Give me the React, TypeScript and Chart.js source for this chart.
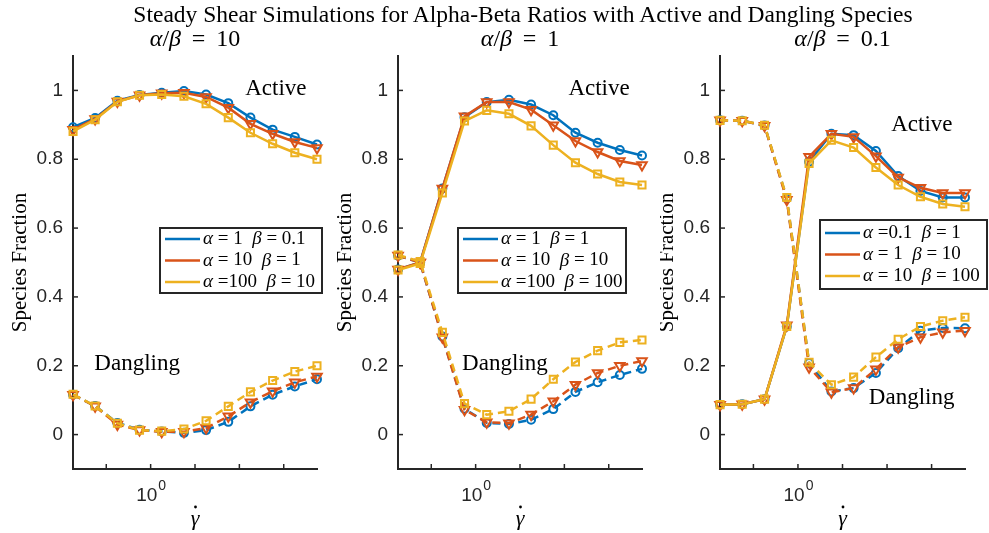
import React, { useEffect, useRef } from 'react';
import { Chart, registerables } from 'chart.js';
Chart.register(...registerables);

// ---------- data ----------
const shearRates = [0.447, 0.562, 0.708, 0.891, 1.122, 1.413, 1.778, 2.239, 2.818, 3.548, 4.467, 5.623];
const xTickValues = [0.631, 1, 1.585, 2.512, 3.981];
const yTickValues = [0, 0.2, 0.4, 0.6, 0.8, 1];

// alpha/beta = 10
const r10ActiveA = [0.893, 0.920, 0.970, 0.987, 0.993, 0.998, 0.988, 0.963, 0.921, 0.886, 0.865, 0.843];
const r10ActiveB = [0.886, 0.917, 0.968, 0.986, 0.992, 0.993, 0.981, 0.950, 0.903, 0.874, 0.850, 0.833];
const r10ActiveC = [0.881, 0.915, 0.967, 0.986, 0.988, 0.983, 0.961, 0.921, 0.877, 0.845, 0.819, 0.800];
const r10DanglingA = [0.116, 0.083, 0.034, 0.014, 0.009, 0.005, 0.013, 0.037, 0.082, 0.116, 0.140, 0.161];
const r10DanglingB = [0.116, 0.082, 0.029, 0.013, 0.008, 0.008, 0.019, 0.053, 0.094, 0.126, 0.152, 0.169];
const r10DanglingC = [0.117, 0.083, 0.033, 0.013, 0.010, 0.016, 0.040, 0.082, 0.124, 0.157, 0.183, 0.200];

// alpha/beta = 1
const r1ActiveA = [0.480, 0.500, 0.715, 0.922, 0.966, 0.973, 0.959, 0.928, 0.877, 0.848, 0.827, 0.811];
const r1ActiveB = [0.480, 0.500, 0.715, 0.925, 0.966, 0.966, 0.944, 0.899, 0.853, 0.821, 0.795, 0.783];
const r1ActiveC = [0.478, 0.497, 0.702, 0.911, 0.942, 0.932, 0.897, 0.841, 0.790, 0.757, 0.734, 0.725];
const r1DanglingA = [0.520, 0.500, 0.285, 0.075, 0.034, 0.031, 0.043, 0.074, 0.124, 0.152, 0.173, 0.191];
const r1DanglingB = [0.520, 0.500, 0.283, 0.072, 0.036, 0.033, 0.058, 0.097, 0.145, 0.179, 0.200, 0.214];
const r1DanglingC = [0.522, 0.503, 0.297, 0.090, 0.058, 0.068, 0.103, 0.161, 0.211, 0.244, 0.268, 0.275];

// alpha/beta = 0.1
const r01ActiveA = [0.087, 0.088, 0.103, 0.314, 0.793, 0.874, 0.870, 0.824, 0.751, 0.708, 0.689, 0.689];
const r01ActiveB = [0.087, 0.088, 0.103, 0.318, 0.807, 0.874, 0.865, 0.809, 0.747, 0.717, 0.702, 0.702];
const r01ActiveC = [0.087, 0.088, 0.103, 0.314, 0.788, 0.855, 0.834, 0.776, 0.725, 0.691, 0.670, 0.662];
const r01DanglingA = [0.913, 0.912, 0.898, 0.686, 0.208, 0.125, 0.135, 0.179, 0.251, 0.302, 0.310, 0.309];
const r01DanglingB = [0.913, 0.912, 0.897, 0.682, 0.196, 0.123, 0.135, 0.190, 0.254, 0.283, 0.297, 0.302];
const r01DanglingC = [0.913, 0.912, 0.899, 0.689, 0.210, 0.145, 0.167, 0.225, 0.277, 0.314, 0.331, 0.341];

const mainTitle = 'Steady Shear Simulations for Alpha-Beta Ratios with Active and Dangling Species';

// ---------- styles ----------
const COLORS = ['#0072BD', '#D95319', '#EDB120'];
const POINT_STYLES = ['circle', 'triangle', 'rect'];
const POINT_RADII = [4, 5.5, 5];
const POINT_ROT = [0, 180, 0];
const SERIF = '"Liberation Serif", "DejaVu Serif", serif';
const SANS = '"Liberation Sans", Arial, sans-serif';
const TXT = '#262626';

type Part = [string, boolean];

function setFont(ctx: CanvasRenderingContext2D, italic: boolean, size: number) {
  ctx.font = `${italic ? 'italic ' : ''}${size}px ${SERIF}`;
}
function drawRich(ctx: CanvasRenderingContext2D, parts: Part[], x: number, y: number, size: number, align: 'left' | 'center') {
  let total = 0;
  for (const [t, it] of parts) { setFont(ctx, it, size); total += ctx.measureText(t).width; }
  let cx = align === 'center' ? x - total / 2 : x;
  ctx.textAlign = 'left';
  for (const [t, it] of parts) {
    setFont(ctx, it, size);
    ctx.fillText(t, cx, y);
    cx += ctx.measureText(t).width;
  }
}
const lbl = (a: string, b: string): Part[] => [['α', true], [a, false], ['β', true], [b, false]];

const panels = [
  {
    left: 0, width: 330, padLeft: 33, padRight: 13,
    subtitle: lbl('/', ' \u2009=\u2009 10'),
    legend: [lbl(' = 1  ', ' = 0.1'), lbl(' = 10  ', ' = 1'), lbl(' =100  ', ' = 10')],
    legendBox: { dx: 87, top: 228, w: 162, h: 65 },
    active: [r10ActiveA, r10ActiveB, r10ActiveC],
    dangling: [r10DanglingA, r10DanglingB, r10DanglingC],
    notes: [{ text: 'Active', x: 3.67, y: 1.003 }, { text: 'Dangling', x: 0.869, y: 0.206 }],
  },
  {
    left: 330, width: 330, padLeft: 28, padRight: 18,
    subtitle: lbl('/', ' \u2009=\u2009 1'),
    legend: [lbl(' = 1  ', ' = 1'), lbl(' = 10  ', ' = 10'), lbl(' =100  ', ' = 100')],
    legendBox: { dx: 60, top: 228, w: 168, h: 65 },
    active: [r1ActiveA, r1ActiveB, r1ActiveC],
    dangling: [r1DanglingA, r1DanglingB, r1DanglingC],
    notes: [{ text: 'Active', x: 3.6, y: 1.003 }, { text: 'Dangling', x: 1.355, y: 0.206 }],
  },
  {
    left: 660, width: 329, padLeft: 20, padRight: 24,
    subtitle: lbl('/', ' \u2009=\u2009 0.1'),
    legend: [lbl(' =0.1  ', ' = 1'), lbl(' = 1  ', ' = 10'), lbl(' = 10  ', ' = 100')],
    legendBox: { dx: 100, top: 220, w: 167, h: 69 },
    active: [r01ActiveA, r01ActiveB, r01ActiveC],
    dangling: [r01DanglingA, r01DanglingB, r01DanglingC],
    notes: [{ text: 'Active', x: 3.6, y: 0.901 }, { text: 'Dangling', x: 3.24, y: 0.107 }],
  },
];

function makeChart(canvas: HTMLCanvasElement, p: typeof panels[number]) {
  const datasets: any[] = [];
  for (let k = 0; k < 3; k++) {
    const base = {
      borderColor: COLORS[k], backgroundColor: 'rgba(0,0,0,0)',
      pointStyle: POINT_STYLES[k], pointRadius: POINT_RADII[k], pointRotation: POINT_ROT[k],
      pointBorderColor: COLORS[k], pointBackgroundColor: 'rgba(0,0,0,0)', pointBorderWidth: 2,
      tension: 0, clip: false, order: 3 - k,
    };
    datasets.push({ ...base, label: 'active' + k, borderWidth: 2.5,
      data: shearRates.map((x, i) => ({ x, y: p.active[k][i] })) });
    datasets.push({ ...base, label: 'dangling' + k, borderWidth: 2.5, borderDash: [8, 5],
      data: shearRates.map((x, i) => ({ x, y: p.dangling[k][i] })) });
  }
  const plugin = {
    id: 'decor',
    afterDraw(chart: any) {
      const ctx: CanvasRenderingContext2D = chart.ctx;
      const { left, right, top, bottom } = chart.chartArea;
      const xs = chart.scales.x, ys = chart.scales.y;
      ctx.save();
      // inward ticks
      ctx.strokeStyle = TXT; ctx.lineWidth = 1.5;
      for (const v of xTickValues) {
        const px = xs.getPixelForValue(v);
        ctx.beginPath(); ctx.moveTo(px, bottom); ctx.lineTo(px, bottom - 5); ctx.stroke();
      }
      for (const v of yTickValues) {
        const py = ys.getPixelForValue(v);
        ctx.beginPath(); ctx.moveTo(left, py); ctx.lineTo(left + 5, py); ctx.stroke();
      }
      // x tick label 10^0
      ctx.fillStyle = TXT;
      ctx.textBaseline = 'alphabetic';
      const p1 = xs.getPixelForValue(1);
      ctx.font = `19px ${SANS}`;
      const w10 = ctx.measureText('10').width;
      ctx.font = `14px ${SANS}`;
      const w0 = ctx.measureText('0').width;
      const sx = p1 - (w10 + w0) / 2;
      ctx.font = `19px ${SANS}`; ctx.textAlign = 'left';
      ctx.fillText('10', sx, 501);
      ctx.font = `14px ${SANS}`;
      ctx.fillText('0', sx + w10 + 1, 490);
      // x label: gamma with an overdot
      ctx.fillStyle = '#000';
      ctx.font = `italic 22px ${SERIF}`; ctx.textAlign = 'center';
      const gx = (left + right) / 2;
      ctx.fillText('γ', gx, 525);
      ctx.beginPath(); ctx.arc(gx + 0.5, 507, 1.4, 0, Math.PI * 2); ctx.fill();
      // y label
      ctx.save();
      ctx.translate(left - 53, (top + bottom) / 2);
      ctx.rotate(-Math.PI / 2);
      ctx.font = `21px ${SERIF}`; ctx.textAlign = 'center'; ctx.textBaseline = 'middle';
      ctx.fillText('Species Fraction', 0, 0);
      ctx.restore();
      // subtitle
      ctx.textBaseline = 'middle';
      drawRich(ctx, p.subtitle, (left + right) / 2, 40, 24, 'center');
      // notes
      for (const n of p.notes) {
        ctx.font = `23px ${SERIF}`; ctx.textAlign = 'center'; ctx.textBaseline = 'middle';
        ctx.fillText(n.text, xs.getPixelForValue(n.x), ys.getPixelForValue(n.y));
      }
      // legend
      const b = p.legendBox;
      const bx = left + b.dx;
      ctx.fillStyle = '#fff';
      ctx.fillRect(bx, b.top, b.w, b.h);
      ctx.strokeStyle = TXT; ctx.lineWidth = 2;
      ctx.strokeRect(bx, b.top, b.w, b.h);
      for (let k = 0; k < 3; k++) {
        const ry = b.top + b.h / 2 + (k - 1) * 21.5;
        ctx.strokeStyle = COLORS[k]; ctx.lineWidth = 2.5;
        ctx.beginPath(); ctx.moveTo(bx + 5, ry); ctx.lineTo(bx + 40, ry); ctx.stroke();
        ctx.fillStyle = '#000'; ctx.textBaseline = 'middle';
        drawRich(ctx, p.legend[k], bx + 43, ry, 19, 'left');
      }
      ctx.restore();
    },
  };
  return new Chart(canvas, {
    type: 'line',
    data: { datasets },
    options: {
      animation: false, responsive: false, maintainAspectRatio: false,
      layout: { padding: { left: p.padLeft, right: p.padRight, top: 56, bottom: 0 } },
      plugins: { legend: { display: false }, tooltip: { enabled: false }, title: { display: false } },
      scales: {
        x: {
          type: 'logarithmic', min: Math.pow(10, -0.35), max: Math.pow(10, 0.75),
          grid: { display: false, drawTicks: false },
          border: { display: true, color: TXT, width: 2 },
          ticks: { display: false },
          afterBuildTicks: (s: any) => { s.ticks = xTickValues.map((v) => ({ value: v })); },
          afterFit: (s: any) => { s.height = 64; },
        },
        y: {
          type: 'linear', min: -0.1, max: 1.1,
          grid: { display: false, drawTicks: false },
          border: { display: true, color: TXT, width: 2 },
          ticks: { font: { family: SANS, size: 19 }, color: TXT, padding: 10, callback: (v: any) => String(v) },
          afterBuildTicks: (s: any) => { s.ticks = yTickValues.map((v) => ({ value: v })); },
          afterFit: (s: any) => { s.width = 40; },
        },
      },
    } as any,
    plugins: [plugin],
  });
}

function Panel({ p }: { p: typeof panels[number] }) {
  const ref = useRef<HTMLCanvasElement>(null);
  useEffect(() => {
    const c = makeChart(ref.current!, p);
    return () => c.destroy();
  }, [p]);
  return (
    <canvas ref={ref} width={p.width} height={533}
      style={{ position: 'absolute', left: p.left, top: 0, width: p.width, height: 533 }} />
  );
}

export default function App() {
  return (
    <div style={{ position: 'relative', width: 989, height: 533, background: '#fff', overflow: 'hidden' }}>
      <style>{'body{margin:0;background:#fff}'}</style>
      {panels.map((p, i) => <Panel key={i} p={p} />)}
      <div style={{ position: 'absolute', left: 523, top: 1, transform: 'translateX(-50%)', whiteSpace: 'nowrap',
        fontFamily: SERIF, fontSize: 23.5, color: '#000', lineHeight: '26px' }}>{mainTitle}</div>
    </div>
  );
}
